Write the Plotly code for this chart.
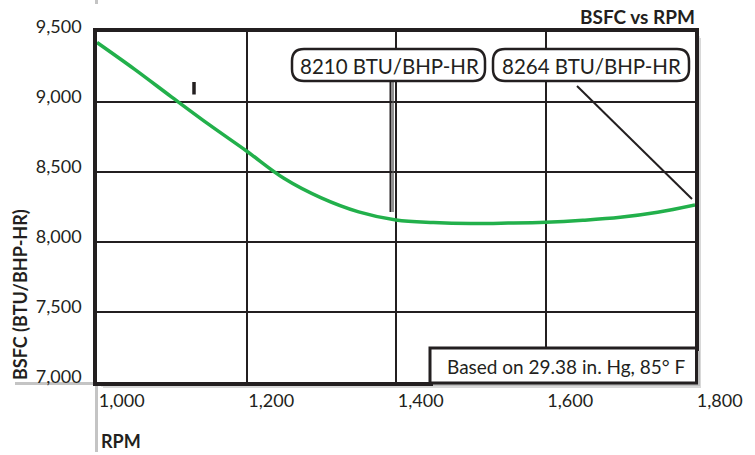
import plotly.graph_objects as go

# ---- data ----
rpm = [1000, 1050, 1100, 1150, 1200, 1250, 1300, 1350, 1400, 1450, 1500,
       1550, 1600, 1650, 1700, 1750, 1800]
bsfc = [9425, 9235, 9035, 8838, 8650, 8455, 8315, 8215, 8157, 8139, 8132,
        8135, 8141, 8155, 8176, 8212, 8264]
x_ticks = [1000, 1200, 1400, 1600, 1800]
x_ticktext = ["1,000", "1,200", "1,400", "1,600", "1,800"]
y_ticks = [7000, 7500, 8000, 8500, 9000, 9500]
y_ticktext = ["7,000", "7,500", "8,000", "8,500", "9,000", "9,500"]
callout_1 = "8210 BTU/BHP-HR"
callout_2 = "8264 BTU/BHP-HR"
note = "Based on 29.38 in. Hg, 85° F"
title = "BSFC vs RPM"
y_title = "BSFC (BTU/BHP-HR)"
x_title = "RPM"

# ---- layout geometry (pixels) ----
W, H = 755, 455
L, R, T, B = 97, 695, 32, 382
FONT = "Lato"
INK = "#231f20"
GREEN = "#22b04b"


def px(x):
    return (x - L) / (R - L)


def py(y):
    return (B - y) / (B - T)


def rrect(x0, y0, x1, y1, r):
    rx = r / (R - L)
    ry = r / (B - T)
    a, b, c, d = px(x0), py(y0), px(x1), py(y1)  # b top (larger), d bottom
    return (f"M {a+rx},{b} L {c-rx},{b} Q {c},{b} {c},{b-ry} "
            f"L {c},{d+ry} Q {c},{d} {c-rx},{d} L {a+rx},{d} "
            f"Q {a},{d} {a},{d+ry} L {a},{b-ry} Q {a},{b} {a+rx},{b} Z")


def pline(x0, y0, x1, y1, color, width, layer="above"):
    return dict(type="line", xref="paper", yref="paper",
                x0=px(x0), y0=py(y0), x1=px(x1), y1=py(y1),
                line=dict(color=color, width=width), layer=layer)


fig = go.Figure()
fig.add_trace(go.Scatter(x=rpm, y=bsfc, mode="lines",
                         line=dict(color=GREEN, width=3.5, shape="spline"),
                         hoverinfo="skip", showlegend=False))

shapes = [
    # frame shadows
    pline(R + 3, T + 4, R + 3, B + 3, "#9a9a9a", 2.5, "below"),
    pline(R + 5, T + 6, R + 5, B + 5, "#d8d8d8", 2, "below"),
    pline(L + 4, B + 3, R + 4, B + 3, "#9a9a9a", 2.5, "below"),
    pline(L + 6, B + 5, R + 6, B + 5, "#d8d8d8", 2, "below"),
    # grey axis extensions
    pline(15, B + 1.5, L - 1, B + 1.5, "#c4c4c4", 3, "below"),
    pline(L - 0.5, B + 3, L - 0.5, 452, "#c4c4c4", 3, "below"),
    pline(L - 0.5, 0, L - 0.5, 4, "#c4c4c4", 3, "below"),
    # "I" mark
    pline(194, 82, 194, 94.5, INK, 3.5),
    # pointer lines
    pline(390.5, 81, 390.5, 212, INK, 2),
    pline(393, 81, 393, 212, "#555555", 1.3),
    pline(577, 86, 692, 199, INK, 2),
    # note box (shadow + box)
    dict(type="rect", xref="paper", yref="paper",
         x0=px(433), y0=py(386), x1=px(700), y1=py(351),
         fillcolor="#bdbdbd", line=dict(width=0), layer="above"),
    dict(type="rect", xref="paper", yref="paper",
         x0=px(430), y0=py(383), x1=px(696.5), y1=py(348),
         fillcolor="white", line=dict(color=INK, width=3), layer="above"),
    # rounded callout boxes
    dict(type="path", xref="paper", yref="paper",
         path=rrect(292, 49, 485, 81, 12), fillcolor="white",
         line=dict(color=INK, width=2.5), layer="above"),
    dict(type="path", xref="paper", yref="paper",
         path=rrect(493, 49, 689, 81, 12), fillcolor="white",
         line=dict(color=INK, width=2.5), layer="above"),
]

annotations = [
    dict(text=callout_1, xref="paper", yref="paper", x=px(389), y=py(65.5),
         showarrow=False, font=dict(family=FONT, size=20.5, color=INK),
         xanchor="center", yanchor="middle"),
    dict(text=callout_2, xref="paper", yref="paper", x=px(591), y=py(65.5),
         showarrow=False, font=dict(family=FONT, size=20.5, color=INK),
         xanchor="center", yanchor="middle"),
    dict(text=note, xref="paper", yref="paper", x=px(566), y=py(366),
         showarrow=False, font=dict(family=FONT, size=19, color=INK),
         xanchor="center", yanchor="middle"),
    dict(text=f"<b>{y_title}</b>", xref="paper", yref="paper", x=px(20),
         y=py(295), textangle=-90, showarrow=False,
         font=dict(family=FONT, size=18, color=INK),
         xanchor="center", yanchor="middle"),
    dict(text=f"<b>{x_title}</b>", xref="paper", yref="paper", x=px(99),
         y=py(441), showarrow=False,
         font=dict(family=FONT, size=18, color=INK),
         xanchor="left", yanchor="middle"),
    dict(text=f"<b>{title}</b>", xref="paper", yref="paper", x=px(697),
         y=py(16.5), showarrow=False,
         font=dict(family=FONT, size=19, color=INK),
         xanchor="right", yanchor="middle"),
]

fig.update_layout(
    width=W, height=H,
    margin=dict(l=L, r=W - R, t=T, b=H - B, autoexpand=False),
    paper_bgcolor="white", plot_bgcolor="white",
    shapes=shapes, annotations=annotations,
    font=dict(family=FONT, color=INK),
)
fig.update_xaxes(range=[1000, 1800], tickvals=x_ticks, ticktext=x_ticktext,
                 showgrid=True, gridcolor=INK, gridwidth=1.5,
                 showline=True, linecolor=INK, linewidth=3.5, mirror=True,
                 ticks="", ticklabelposition="outside right",
                 tickfont=dict(family=FONT, size=18, color=INK),
                 zeroline=False, automargin=False)
fig.update_yaxes(range=[7000, 9500], tickvals=y_ticks, ticktext=y_ticktext,
                 showgrid=True, gridcolor=INK, gridwidth=1.5,
                 showline=True, linecolor=INK, linewidth=3.5, mirror=True,
                 ticks="", ticklabelstandoff=8, ticklabelshift=-5,
                 tickfont=dict(family=FONT, size=18, color=INK),
                 zeroline=False, automargin=False)

fig.write_html("out.html", config={"displayModeBar": False},
               post_script="document.body.style.margin='0';")
